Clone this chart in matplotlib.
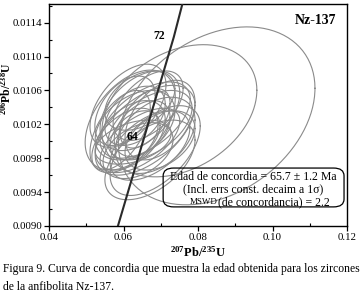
import numpy as np
import matplotlib
matplotlib.use("Agg")
import matplotlib.pyplot as plt
from matplotlib.patches import FancyBboxPatch
from matplotlib.ticker import MultipleLocator, FixedLocator, FormatStrFormatter

plt.rcParams["font.family"] = ["Liberation Serif", "DejaVu Serif"]
plt.rcParams["mathtext.fontset"] = "custom"
plt.rcParams["mathtext.rm"] = "Liberation Serif"
plt.rcParams["mathtext.bf"] = "Liberation Serif:bold"

# error ellipses: 207Pb/235U, half-width, 206Pb/238U, half-height, correlation
ell_x = [0.0612, 0.0644, 0.0658, 0.0631, 0.0671, 0.0618, 0.0644, 0.0685, 0.0604, 0.0658,
         0.0631, 0.0698, 0.0671, 0.0591, 0.0639, 0.0666, 0.0618, 0.0650, 0.0685, 0.0631,
         0.0658, 0.0604, 0.0698, 0.0644, 0.0671, 0.0626]
ell_sx = [0.0102, 0.0107, 0.0121, 0.0107, 0.0113, 0.0094, 0.0107, 0.0107, 0.0089, 0.0134,
          0.0081, 0.0094, 0.0107, 0.0081, 0.0094, 0.0094, 0.0121, 0.0075, 0.0121, 0.0067,
          0.0067, 0.0081, 0.0094, 0.0094, 0.0121, 0.0102]
ell_y = [0.01042, 0.01036, 0.01025, 0.01019, 0.01019, 0.01007, 0.01001, 0.01007, 0.01001, 0.01013,
         0.01030, 0.01025, 0.00995, 0.01013, 0.00989, 0.01042, 0.01025, 0.01015, 0.00989, 0.01007,
         0.01027, 0.01036, 0.01001, 0.01048, 0.00978, 0.00999]
ell_sy = [0.00049, 0.00047, 0.00045, 0.00041, 0.00041, 0.00041, 0.00038, 0.00045, 0.00038, 0.00053,
          0.00035, 0.00047, 0.00041, 0.00047, 0.00033, 0.00041, 0.00059, 0.00033, 0.00053, 0.00029,
          0.00035, 0.00041, 0.00035, 0.00035, 0.00047, 0.00026]
ell_rho = [0.50, 0.45, 0.55, 0.40, 0.50, 0.45, 0.60, 0.40, 0.50, 0.55,
           0.40, 0.45, 0.50, 0.55, 0.40, 0.50, 0.45, 0.40, 0.55, 0.40,
           0.50, 0.45, 0.40, 0.40, 0.50, 0.40]

# the two wide ellipses
big_x = [0.0850, 0.0750]
big_sx = [0.0264, 0.0208]
big_y = [0.01030, 0.01036]
big_sy = [0.00105, 0.00078]
big_rho = [0.31, 0.31]

# concordia curve and age marks
conc_x = [0.0585, 0.0651, 0.0735, 0.0758]
conc_y = [0.00900, 0.00998, 0.01123, 0.01162]
age_labels = ["64", "72"]
age_x = [0.0651, 0.0735]
age_y = [0.00998, 0.01123]

y_ticks = [0.0090, 0.0094, 0.0098, 0.0102, 0.0106, 0.0110, 0.0114]

fig = plt.figure(figsize=(3.62, 2.97), dpi=100)
ax = fig.add_axes([0.1354, 0.2391, 0.8232, 0.7474])

t = np.linspace(0, 2 * np.pi, 200)


def draw_ellipse(cx, sx, cy, sy, rho):
    ex = cx + sx * np.cos(t)
    ey = cy + sy * (rho * np.cos(t) + np.sqrt(1 - rho ** 2) * np.sin(t))
    ax.plot(ex, ey, color="#8a8a8a", lw=0.8, zorder=2)


for i in range(len(ell_x)):
    draw_ellipse(ell_x[i], ell_sx[i], ell_y[i], ell_sy[i], ell_rho[i])
for i in range(len(big_x)):
    draw_ellipse(big_x[i], big_sx[i], big_y[i], big_sy[i], big_rho[i])

ax.plot(conc_x, conc_y, color="#2a2a2a", lw=1.5, zorder=3)
ax.annotate(age_labels[0], (age_x[0], age_y[0]), xytext=(-3, 4), textcoords="offset points",
            ha="right", va="center", fontsize=8.5, fontweight="bold", zorder=4)
ax.annotate(age_labels[1], (age_x[1], age_y[1]), xytext=(-6, 1), textcoords="offset points",
            ha="right", va="center", fontsize=8.5, fontweight="bold", zorder=4)

ax.set_xlim(0.04, 0.12)
ax.set_ylim(0.0090, 0.01162)
ax.xaxis.set_major_locator(MultipleLocator(0.02))
ax.xaxis.set_minor_locator(MultipleLocator(0.01))
ax.yaxis.set_major_locator(FixedLocator(y_ticks))
ax.yaxis.set_minor_locator(MultipleLocator(0.0002))
ax.xaxis.set_major_formatter(FormatStrFormatter("%.2f"))
ax.yaxis.set_major_formatter(FormatStrFormatter("%.4f"))
ax.tick_params(which="major", direction="out", length=3.5, width=0.9, labelsize=7.8, pad=1.5)
ax.tick_params(which="minor", direction="in", length=2.5, width=0.8)
for s in ax.spines.values():
    s.set_linewidth(1.0)

ax.set_xlabel(r"$\mathbf{^{207}Pb/^{235}U}$", fontsize=9)
ax.xaxis.set_label_coords(0.5, -0.085)
ax.set_ylabel(r"$\mathbf{^{206}Pb/^{238}U}$", fontsize=8.5)
ax.yaxis.set_label_coords(-0.118, 0.62)

ax.text(0.965, 0.955, "Nz-137", transform=ax.transAxes, ha="right", va="top",
        fontsize=10, fontweight="bold")

# result box
box = FancyBboxPatch((0.383, 0.086), 0.607, 0.175, transform=ax.transAxes,
                     boxstyle="round,pad=0,rounding_size=0.035", fc="none", ec="black",
                     lw=0.9, zorder=5)
ax.add_patch(box)
ax.text(0.686, 0.222, "Edad de concordia = 65.7 \u00b1 1.2 Ma", transform=ax.transAxes,
        ha="center", va="center", fontsize=8.5, zorder=6)
ax.text(0.686, 0.165, "(Incl. errs const. decaim a 1\u03c3)", transform=ax.transAxes,
        ha="center", va="center", fontsize=8.5, zorder=6)
ax.text(0.567, 0.108, "MSWD", transform=ax.transAxes,
        ha="right", va="center", fontsize=6.5, zorder=6)
ax.text(0.567, 0.108, "(de concordancia) = 2.2", transform=ax.transAxes,
        ha="left", va="center", fontsize=8.5, zorder=6)

fig.text(0.008, 0.094, "Figura 9. Curva de concordia que muestra la edad obtenida para los zircones",
         ha="left", va="center", fontsize=8.4)
fig.text(0.008, 0.034, "de la anfibolita Nz-137.", ha="left", va="center", fontsize=8.4)

fig.savefig("out.png", dpi=100)
